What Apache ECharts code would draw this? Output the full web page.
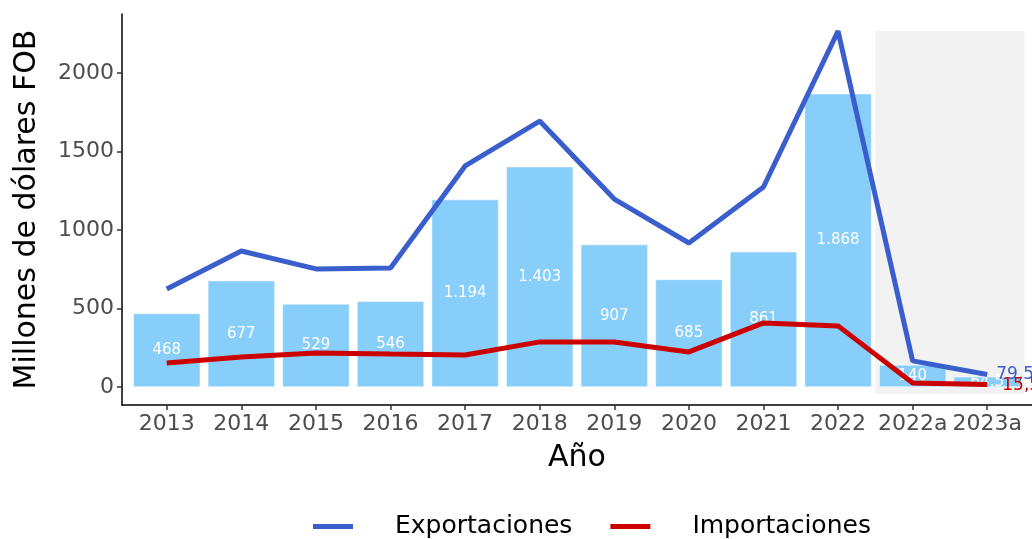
<!DOCTYPE html>
<html>
<head>
<meta charset="utf-8">
<script src="https://cdn.jsdelivr.net/npm/echarts@6/dist/echarts.min.js"></script>
<style>
	html, body { margin: 0; padding: 0; background: #fff; }
	#main { width: 1032px; height: 539px; }
</style>
</head>
<body>
<div id="main"></div>
<script>
var categories = ['2013', '2014', '2015', '2016', '2017', '2018', '2019', '2020', '2021', '2022', '2022a', '2023a'];
var barValues = [468, 677, 529, 546, 1194, 1403, 907, 685, 861, 1868, 140, 64.5];
var exportaciones = [624, 866, 752, 758, 1408, 1694, 1197, 917, 1274, 2267, 166, 79.5];
var importaciones = [153, 191, 217, 210, 204, 287, 287, 223, 408, 389, 25, 15.5];
var yTicks = [0, 500, 1000, 1500, 2000];

var fontFamily = 'DejaVu Sans';

function fmtNum(v) {
	// formato es: punto para miles, coma para decimales
	var parts = String(v).split('.');
	var ent = parts[0].replace(/\B(?=(\d{3})+(?!\d))/g, '.');
	return parts.length > 1 ? ent + ',' + parts[1] : ent;
}

function pairs(arr) {
	return arr.map(function(v, i) { return [i, v]; });
}

function endLabel(color, offset) {
	return {
		show: true,
		distance: 3,
		offset: offset,
		color: color,
		fontSize: 17,
		fontFamily: fontFamily,
		formatter: function(d) { return fmtNum(d.value[1]); }
	};
}

function display() {
	var myChart = echarts.init(document.getElementById('main'));
	var idx = categories.map(function(c, i) { return i; });

	var option = {
		animation: false,
		grid: { left: 122, right: 0, top: 14, bottom: 134 },
		legend: {
			left: 308,
			top: 509,
			icon: 'rect',
			itemWidth: 40,
			itemHeight: 5,
			itemGap: 38,
			data: ['Exportaciones', 'Importaciones'],
			textStyle: { fontFamily: fontFamily, fontSize: 25, color: '#000', padding: [0, 0, 0, 37] }
		},
		xAxis: {
			type: 'value',
			min: -0.6,
			max: 11.6,
			name: 'Año',
			nameLocation: 'middle',
			nameGap: 38,
			nameTextStyle: { fontFamily: fontFamily, fontSize: 30, color: '#000' },
			splitLine: { show: false },
			axisLine: { show: true, onZero: false, lineStyle: { color: '#000', width: 1.5 } },
			axisTick: { show: true, length: 5, customValues: idx, lineStyle: { color: '#333', width: 1.5 } },
			axisLabel: {
				customValues: idx,
				margin: 8,
				fontFamily: fontFamily,
				fontSize: 22,
				color: '#4d4d4d',
				formatter: function(v) { return categories[Math.round(v)]; }
			}
		},
		yAxis: {
			type: 'value',
			min: -115,
			max: 2376,
			name: 'Millones de dólares FOB',
			nameLocation: 'middle',
			nameGap: 80,
			nameTextStyle: { fontFamily: fontFamily, fontSize: 30, color: '#000' },
			splitLine: { show: false },
			axisLine: { show: true, onZero: false, lineStyle: { color: '#000', width: 1.5 } },
			axisTick: { show: true, length: 5, customValues: yTicks, lineStyle: { color: '#333', width: 1.5 } },
			axisLabel: {
				customValues: yTicks,
				margin: 8,
				fontFamily: fontFamily,
				fontSize: 22,
				color: '#4d4d4d',
				formatter: function(v) { return String(v); }
			}
		},
		series: [
			{
				// zona sombreada de los datos acumulados
				name: 'zona',
				type: 'line',
				data: [],
				z: 1,
				silent: true,
				markArea: {
					silent: true,
					itemStyle: { color: '#f2f2f2' },
					data: [[{ xAxis: 9.5, yAxis: -45 }, { xAxis: 11.5, yAxis: 2267 }]]
				}
			},
			{
				name: 'Total',
				type: 'bar',
				z: 2,
				barWidth: 67,
				data: pairs(barValues),
				itemStyle: { color: '#87cefa', borderColor: '#ffffff', borderWidth: 0.5 },
				label: {
					show: true,
					position: 'inside',
					color: '#ffffff',
					fontFamily: fontFamily,
					fontSize: 15,
					formatter: function(d) { return fmtNum(d.value[1]); }
				}
			},
			{
				name: 'Exportaciones',
				type: 'line',
				z: 3,
				symbol: 'none',
				color: '#3a5fcd',
				lineStyle: { width: 5, color: '#3a5fcd' },
				data: pairs(exportaciones),
				endLabel: endLabel('#3a5fcd', [6, 0])
			},
			{
				name: 'Importaciones',
				type: 'line',
				z: 3,
				symbol: 'none',
				color: '#cd0000',
				lineStyle: { width: 5, color: '#cd0000' },
				data: pairs(importaciones),
				endLabel: endLabel('#cd0000', [12, 1])
			}
		]
	};

	myChart.setOption(option);
}

display();
</script>
</body>
</html>
